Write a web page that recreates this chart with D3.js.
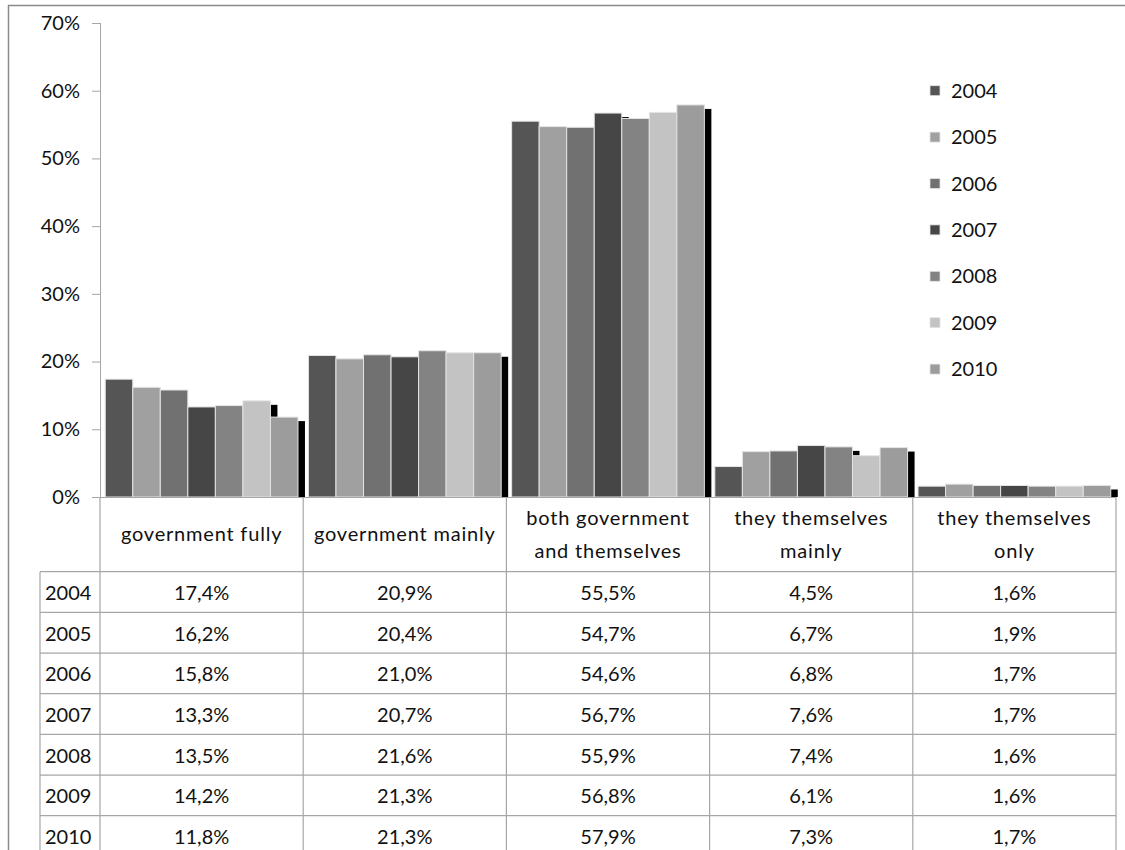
<!DOCTYPE html>
<html>
<head>
<meta charset="utf-8">
<script src="https://cdn.jsdelivr.net/npm/d3@7"></script>
<style>
  body { margin: 0; background: #fff; }
  svg { font-family: Lato, "Open Sans", sans-serif; }
</style>
</head>
<body>
<svg id="chart" width="1125" height="850"></svg>
<script>
// data
var categories = ["government fully", "government mainly", "both government and themselves", "they themselves mainly", "they themselves only"];
var headerLines = [["government fully"], ["government mainly"], ["both government", "and themselves"], ["they themselves", "mainly"], ["they themselves", "only"]];
var years = ["2004", "2005", "2006", "2007", "2008", "2009", "2010"];
var v2004 = [17.4, 20.9, 55.5, 4.5, 1.6];
var v2005 = [16.2, 20.4, 54.7, 6.7, 1.9];
var v2006 = [15.8, 21.0, 54.6, 6.8, 1.7];
var v2007 = [13.3, 20.7, 56.7, 7.6, 1.7];
var v2008 = [13.5, 21.6, 55.9, 7.4, 1.6];
var v2009 = [14.2, 21.3, 56.8, 6.1, 1.6];
var v2010 = [11.8, 21.3, 57.9, 7.3, 1.7];
var yTicks = [0, 0.1, 0.2, 0.3, 0.4, 0.5, 0.6, 0.7];
var colors = ["#555555", "#a0a0a0", "#717171", "#464646", "#838383", "#c3c3c3", "#9c9c9c"];

var series = [v2004, v2005, v2006, v2007, v2008, v2009, v2010];

var svg = d3.select("#chart");
var chart = { left: 100, right: 1116, top: 23, base: 497 };
var tableTop = 571.7, rowH = 40.67;
var lineColor = "#a6a6a6";
var fs = 20;

var x0 = d3.scaleBand().domain(categories).range([chart.left, chart.right]);
var x1 = d3.scaleBand().domain(years).range([0, x0.bandwidth()]).paddingInner(0).paddingOuter(0.19);
var y = d3.scaleLinear().domain([0, 0.7]).range([chart.base, chart.top]);
var color = d3.scaleOrdinal().domain(years).range(colors);

// outer frame
svg.append("path")
  .attr("d", "M8.5,850 V5.5 H1125")
  .attr("fill", "none").attr("stroke", "#8a8a8a").attr("stroke-width", 1.5);

var data = categories.map(function(c, ci) {
  return {
    cat: c,
    bars: years.map(function(yr, yi) { return { key: yr, value: series[yi][ci] / 100 }; })
  };
});

// clip for shadows
svg.append("clipPath").attr("id", "plotclip")
  .append("rect").attr("x", chart.left).attr("y", 0).attr("width", 1125 - chart.left).attr("height", chart.base);

var groups = svg.selectAll(".group")
  .data(data).enter().append("g")
  .attr("class", "group")
  .attr("transform", function(d) { return "translate(" + x0(d.cat) + ",0)"; });

// drop shadows
groups.append("g").attr("clip-path", "url(#plotclip)")
  .selectAll("rect")
  .data(function(d) { return d.bars; })
  .enter().append("rect")
    .attr("x", function(d) { return x1(d.key) + 7; })
    .attr("y", function(d) { return y(d.value) + 4; })
    .attr("width", x1.bandwidth())
    .attr("height", function(d) { return Math.max(0, chart.base - y(d.value) - 4); })
    .attr("fill", "#000");

groups.selectAll("rect.bar")
  .data(function(d) { return d.bars; })
  .enter().append("rect")
    .attr("class", "bar")
    .attr("x", function(d) { return x1(d.key); })
    .attr("y", function(d) { return y(d.value); })
    .attr("width", x1.bandwidth())
    .attr("height", function(d) { return chart.base - y(d.value); })
    .attr("fill", function(d) { return color(d.key); })
    .attr("stroke", "#e4e4e4")
    .attr("stroke-width", 1);

// y axis
var yAxis = svg.append("g")
  .attr("transform", "translate(" + chart.left + ",0)")
  .call(d3.axisLeft(y).tickValues(yTicks).tickFormat(d3.format(".0%")).tickSize(8).tickPadding(12));
yAxis.select(".domain").attr("stroke", lineColor).attr("d", "M0.5," + chart.top + "V" + chart.base);
yAxis.selectAll(".tick line").attr("stroke", lineColor);
yAxis.selectAll(".tick text").attr("font-size", fs).attr("fill", "#111").attr("font-family", "Lato, sans-serif");

// baseline
svg.append("line")
  .attr("x1", chart.left).attr("x2", chart.right)
  .attr("y1", chart.base + 0.5).attr("y2", chart.base + 0.5)
  .attr("stroke", lineColor).attr("stroke-width", 1.2);

// data table grid
var grid = svg.append("g").attr("stroke", lineColor).attr("stroke-width", 1.2);
var bounds = categories.map(function(c) { return x0(c); }).concat([chart.right]);
bounds.forEach(function(bx) {
  grid.append("line")
    .attr("x1", bx).attr("x2", bx)
    .attr("y1", chart.base).attr("y2", 850);
});
grid.append("line").attr("x1", 40).attr("x2", 40).attr("y1", tableTop).attr("y2", 850);
years.forEach(function(yr, i) {
  grid.append("line")
    .attr("x1", 40).attr("x2", chart.right)
    .attr("y1", tableTop + i * rowH).attr("y2", tableTop + i * rowH);
});

// header labels
var headers = svg.selectAll(".header")
  .data(headerLines).enter().append("text")
  .attr("class", "header")
  .attr("text-anchor", "middle")
  .attr("font-size", fs)
  .attr("letter-spacing", 0.8)
  .attr("fill", "#111")
  .attr("x", function(d, i) { return x0(categories[i]) + x0.bandwidth() / 2; })
  .attr("y", 0);
headers.each(function(lines) {
  var t = d3.select(this);
  var mid = (chart.base + tableTop) / 2;
  lines.forEach(function(l, li) {
    t.append("tspan")
      .attr("x", t.attr("x"))
      .attr("y", mid + (li - (lines.length - 1) / 2) * 33 + 7)
      .text(l);
  });
});

// table rows
var fmt = function(v) { return d3.format(".1f")(v).replace(".", ",") + "%"; };
years.forEach(function(yr, i) {
  var cy = tableTop + i * rowH + rowH / 2 + 8;
  svg.append("text")
    .attr("x", 45).attr("y", cy)
    .attr("font-size", fs).attr("fill", "#111")
    .text(yr);
  categories.forEach(function(c, ci) {
    svg.append("text")
      .attr("x", x0(c) + x0.bandwidth() / 2).attr("y", cy)
      .attr("text-anchor", "middle")
      .attr("font-size", fs).attr("fill", "#111")
      .text(fmt(series[i][ci]));
  });
});

// legend
var legend = svg.append("g").attr("class", "legend");
years.forEach(function(yr, i) {
  var ly = 90.7 + i * 46.4;
  legend.append("rect")
    .attr("x", 930).attr("y", ly - 5)
    .attr("width", 10).attr("height", 10)
    .attr("fill", color(yr))
    .attr("stroke", "#e4e4e4").attr("stroke-width", 0.8);
  legend.append("text")
    .attr("x", 951).attr("y", ly + 7)
    .attr("font-size", fs).attr("fill", "#111")
    .text(yr);
});
</script>
</body>
</html>
